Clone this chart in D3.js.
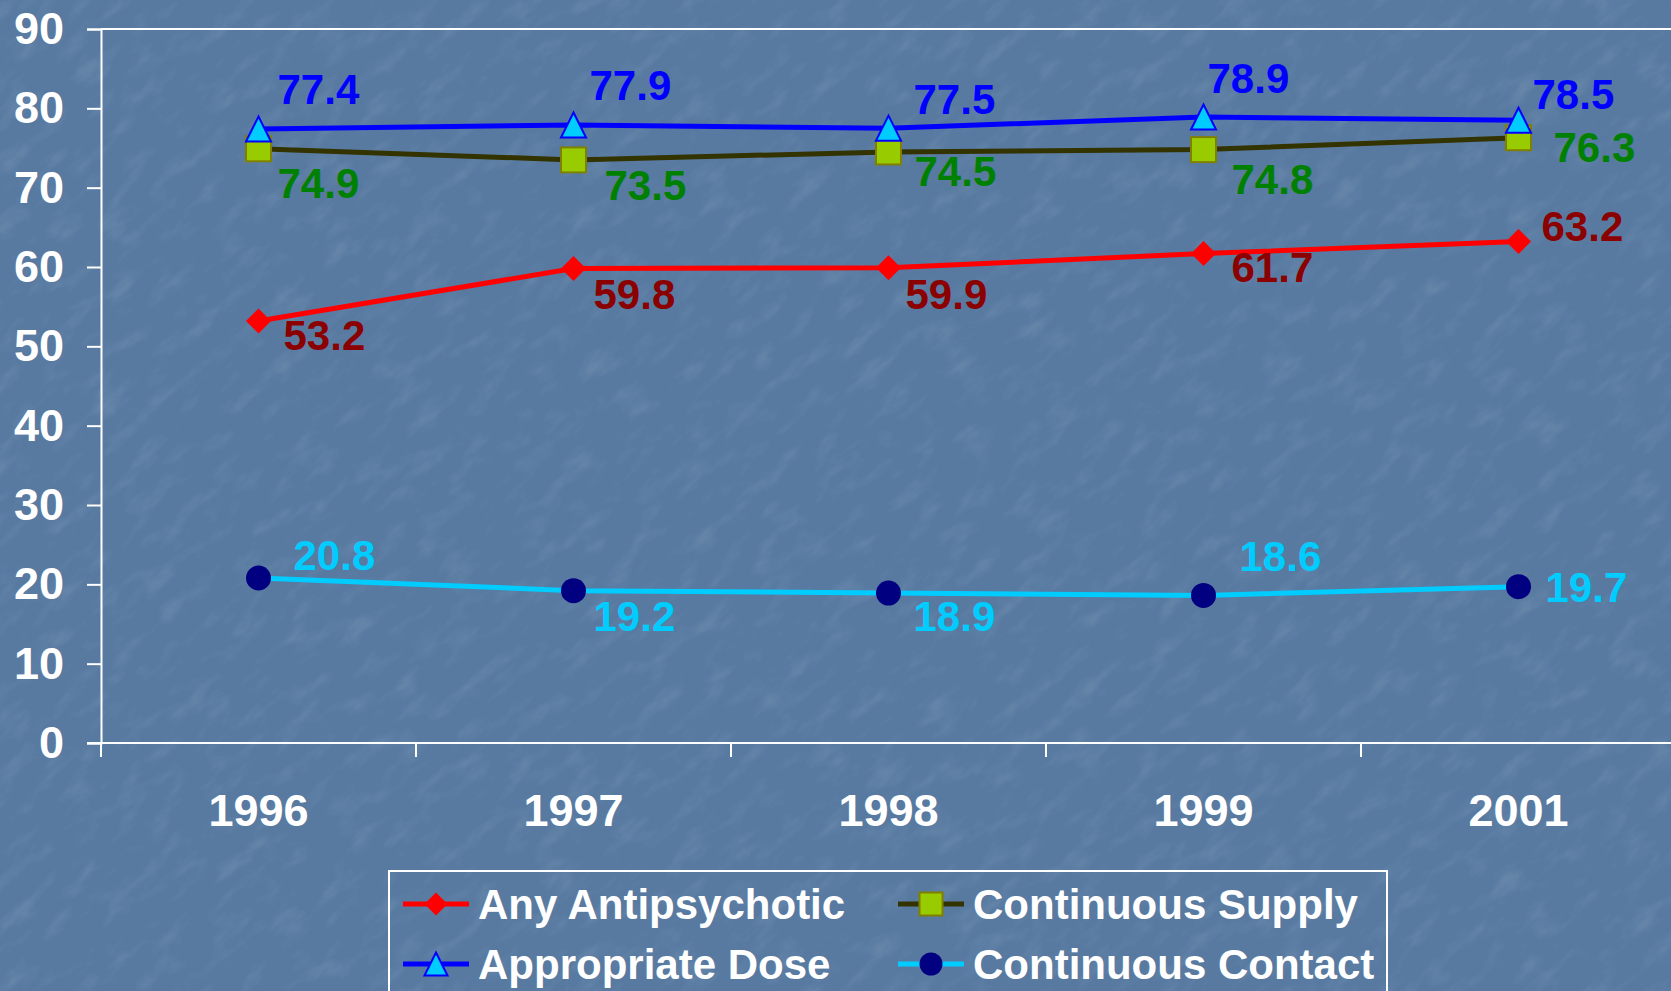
<!doctype html>
<head>
	<title>Antipsychotic indicators</title>
	<script src="https://d3js.org/d3.v7.min.js"></script>
	<style>
		body { margin: 0; background: #5a7ca3; }
		text { font-family: "Liberation Sans", Arial, sans-serif; font-weight: bold; }
	</style>
</head>
<body>
	<svg id="chart" width="1671" height="991"></svg>
	<script>
		// data
		let years = ["1996", "1997", "1998", "1999", "2001"]
		let yTicks = [0, 10, 20, 30, 40, 50, 60, 70, 80, 90]
		let anyAntipsychotic = [53.2, 59.8, 59.9, 61.7, 63.2]
		let continuousSupply = [74.9, 73.5, 74.5, 74.8, 76.3]
		let appropriateDose = [77.4, 77.9, 77.5, 78.9, 78.5]
		let continuousContact = [20.8, 19.2, 18.9, 18.6, 19.7]

		// label nudges (px) as they were dragged around on the slide
		let labelShift = {
			"Any Antipsychotic": [[25, 14], [20, 25], [17, 26], [28, 13], [23, -16]],
			"Continuous Supply": [[19, 34], [31, 25], [26, 19], [28, 29], [35, 9]],
			"Appropriate Dose": [[19, -40], [16, -40], [25, -29], [4, -39], [14, -26]],
			"Continuous Contact": [[35, -23], [20, 25], [25, 23], [36, -40], [27, 0]]
		}

		let series = [
			{name: "Any Antipsychotic", values: anyAntipsychotic, line: "#ff0000", fill: "#ff0000", stroke: "none", label: "#8b0000", shape: "diamond"},
			{name: "Continuous Supply", values: continuousSupply, line: "#333300", fill: "#99cc00", stroke: "#808000", label: "#008000", shape: "square"},
			{name: "Appropriate Dose", values: appropriateDose, line: "#0000ff", fill: "#00ccff", stroke: "#0000ff", label: "#0000ff", shape: "triangle"},
			{name: "Continuous Contact", values: continuousContact, line: "#00ccff", fill: "#000080", stroke: "none", label: "#00ccff", shape: "circle"}
		]

		const width = 1671, height = 991
		const svg = d3.select("#chart")

		// textured blue background
		const defs = svg.append("defs")
		const f = defs.append("filter").attr("id", "tex").attr("x", 0).attr("y", 0).attr("width", "100%").attr("height", "100%")
		f.append("feTurbulence").attr("type", "fractalNoise").attr("baseFrequency", "0.025 0.06").attr("numOctaves", 4).attr("seed", 7)
		f.append("feColorMatrix").attr("type", "matrix")
			.attr("values", "0 0 0 0 1  0 0 0 0 1  0 0 0 0 1  0 0 0 1.0 -0.5")
		svg.append("rect").attr("width", width).attr("height", height).attr("fill", "#587aa1")
		svg.append("g").attr("transform", "rotate(-40 835 495)")
			.append("rect").attr("x", -600).attr("y", -600).attr("width", 2900).attr("height", 2200)
			.attr("filter", "url(#tex)").attr("opacity", 0.2)

		const x = d3.scaleBand().domain(years).range([101, 1676])
		const y = d3.scaleLinear().domain([0, 90]).range([743, 29])
		const cx = d => x(d) + x.bandwidth() / 2

		// top border of plot area
		svg.append("line").attr("x1", 101).attr("x2", width).attr("y1", y(90)).attr("y2", y(90))
			.attr("stroke", "#fff").attr("stroke-width", 2)

		const yAxis = svg.append("g").attr("transform", "translate(101,0)")
			.call(d3.axisLeft(y).tickValues(yTicks).tickSize(14).tickPadding(23))
		yAxis.selectAll("line, path").attr("stroke", "#fff").attr("stroke-width", 2)
		yAxis.selectAll("text").attr("fill", "#fff").style("font-size", "45px")

		// x axis line with ticks at category boundaries
		svg.append("line").attr("x1", 87).attr("x2", width).attr("y1", y(0)).attr("y2", y(0))
			.attr("stroke", "#fff").attr("stroke-width", 2)
		svg.selectAll(".xtick").data(years.map(d => x(d)).concat([x.range()[1]]))
			.join("line").attr("class", "xtick")
			.attr("x1", d => d).attr("x2", d => d).attr("y1", y(0)).attr("y2", y(0) + 14)
			.attr("stroke", "#fff").attr("stroke-width", 2)
		svg.selectAll(".xlab").data(years).join("text").attr("class", "xlab")
			.attr("x", cx).attr("y", 826).attr("text-anchor", "middle")
			.attr("fill", "#fff").style("font-size", "45px").text(d => d)

		function marker(sel, s, size) {
			if (s.shape == "circle") {
				sel.append("circle").attr("r", size / 2)
			} else if (s.shape == "square") {
				sel.append("rect").attr("x", -size / 2).attr("y", -size / 2).attr("width", size).attr("height", size)
			} else if (s.shape == "diamond") {
				const h = size / 2
				sel.append("path").attr("d", `M0,${-h}L${h},0L0,${h}L${-h},0Z`)
			} else {
				const h = size / 2
				sel.append("path").attr("d", `M0,${-h}L${h},${h}L${-h},${h}Z`)
			}
			sel.selectChildren().attr("fill", s.fill).attr("stroke", s.stroke).attr("stroke-width", 2)
		}

		const line = d3.line().x((d, i) => cx(years[i])).y(d => y(d))

		series.forEach(s => {
			svg.append("path").datum(s.values).attr("d", line)
				.attr("fill", "none").attr("stroke", s.line).attr("stroke-width", 5)
			s.values.forEach((v, i) => {
				const g = svg.append("g").attr("transform", `translate(${cx(years[i])},${y(v)})`)
				marker(g, s, 25)
			})
		})

		// value labels on top of everything
		series.forEach(s => {
			svg.selectAll(null).data(s.values).join("text")
				.attr("x", (v, i) => cx(years[i]) + labelShift[s.name][i][0])
				.attr("y", (v, i) => y(v) + labelShift[s.name][i][1])
				.attr("dy", "0.36em")
				.attr("fill", s.label).style("font-size", "42px").text(v => v.toFixed(1))
		})

		// legend
		const lg = svg.append("g")
		lg.append("rect").attr("x", 389).attr("y", 871).attr("width", 998).attr("height", 140)
			.attr("fill", "none").attr("stroke", "#fff").attr("stroke-width", 2)
		series.forEach((s, i) => {
			const col = i % 2, row = Math.floor(i / 2)
			const lx = col == 0 ? 403 : 898
			const ly = row == 0 ? 904 : 964
			lg.append("line").attr("x1", lx).attr("x2", lx + 66).attr("y1", ly).attr("y2", ly)
				.attr("stroke", s.line).attr("stroke-width", 5)
			const g = lg.append("g").attr("transform", `translate(${lx + 33},${ly})`)
			marker(g, s, 23)
			lg.append("text").attr("x", lx + 75).attr("y", ly).attr("dy", "0.36em")
				.attr("fill", "#fff").style("font-size", "42px").text(s.name)
		})
	</script>
</body>
